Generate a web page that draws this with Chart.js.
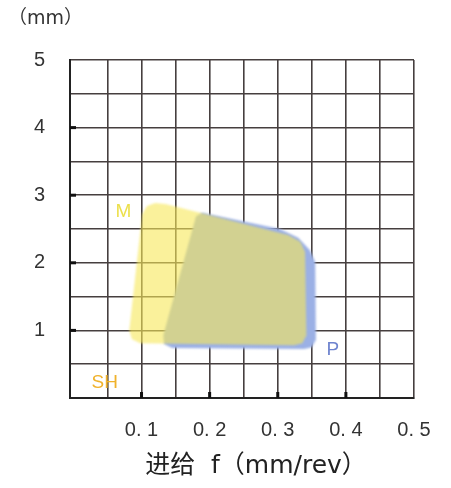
<!DOCTYPE html>
<html>
<head>
<meta charset="utf-8">
<script src="https://cdn.jsdelivr.net/npm/chart.js@4/dist/chart.umd.min.js"></script>
<style>
  html, body { margin: 0; padding: 0; background: #ffffff; }
  #wrap { width: 451px; height: 488px; position: relative; }
</style>
</head>
<body>
<div id="wrap"><canvas id="c" width="451" height="488"></canvas></div>
<script>
// Feed f (mm/rev) vs depth of cut (mm) application ranges
const xTickLabels = { 10: '0. 1', 20: '0. 2', 30: '0. 3', 40: '0. 4', 50: '0. 5' };
const yTickLabels = { 1: '1', 2: '2', 3: '3', 4: '4', 5: '5' };
const xGridValues = [0.05, 0.1, 0.15, 0.2, 0.25, 0.3, 0.35, 0.4, 0.45, 0.5];
const xMarkValues = [0.1, 0.2, 0.3, 0.4];
const yMarkValues = [1, 2, 3, 4];
const xAxisTitle = '进给  f（mm/rev）';
const yAxisUnit = '（mm）';

// Region M (outline of feed / depth range)
const regionMFeed  = [0.101, 0.108, 0.120, 0.135, 0.315, 0.333, 0.340, 0.342, 0.336, 0.324, 0.098, 0.086, 0.082, 0.101];
const regionMDepth = [2.72, 2.84, 2.885, 2.87, 2.41, 2.31, 2.16, 0.93, 0.81, 0.78, 0.81, 0.87, 1.00, 2.72];

// Region P
const regionPFeed  = [0.180, 0.189, 0.303, 0.330, 0.347, 0.355, 0.356, 0.350, 0.339, 0.145, 0.133, 0.132, 0.180];
const regionPDepth = [2.69, 2.74, 2.50, 2.37, 2.19, 2.01, 0.86, 0.75, 0.725, 0.74, 0.80, 0.93, 2.69];

// Region name labels (anchor in data units)
const regionLabels = [
  { text: 'M',  x: 0.0735, y: 2.75, color: '#ece04c' },
  { text: 'P',  x: 0.381,  y: 0.71, color: '#6f84cf' },
  { text: 'SH', x: 0.046,  y: 0.22, color: '#f0b22c' }
];

const toPoints = (xs, ys) => xs.map((x, i) => ({ x: x, y: ys[i] }));

const FONT = '"Liberation Sans", Arial, sans-serif';
const WIDE = '"DejaVu Sans", "Noto Sans CJK SC", sans-serif';
const GRID = '#463f3f';

const extras = {
  id: 'extras',
  beforeDatasetsDraw(chart) {
    // soft edges on the filled ranges
    chart.ctx.save();
    chart.ctx.filter = 'blur(1px)';
  },
  afterDatasetsDraw(chart) {
    const ctx = chart.ctx;
    ctx.restore();
    ctx.filter = 'none';
    const xs = chart.scales.x, ys = chart.scales.y;
    ctx.save();
    ctx.font = '19px ' + FONT;
    ctx.textAlign = 'center';
    ctx.textBaseline = 'middle';
    regionLabels.forEach(l => {
      ctx.fillStyle = l.color;
      ctx.fillText(l.text, xs.getPixelForValue(l.x), ys.getPixelForValue(l.y));
    });
    ctx.restore();
  },
  afterDraw(chart) {
    const ctx = chart.ctx;
    const a = chart.chartArea;
    const xs = chart.scales.x, ys = chart.scales.y;
    ctx.save();
    ctx.filter = 'none';
    ctx.fillStyle = '#111';
    yMarkValues.forEach(v => {
      const py = ys.getPixelForValue(v);
      ctx.fillRect(a.left, py - 1.5, 6, 3);
    });
    xMarkValues.forEach(v => {
      const px = xs.getPixelForValue(v);
      ctx.fillRect(px - 1.5, a.bottom - 6, 3, 6);
    });
    ctx.fillStyle = '#333';
    ctx.font = '19px ' + WIDE;
    ctx.textAlign = 'left';
    ctx.textBaseline = 'middle';
    ctx.fillText(yAxisUnit, 8, 19);
    ctx.fillStyle = '#222';
    ctx.font = '25px ' + WIDE;
    ctx.textAlign = 'center';
    ctx.fillText(xAxisTitle, 256, 466);
    ctx.restore();
  }
};

new Chart(document.getElementById('c'), {
  type: 'scatter',
  data: {
    datasets: [
      {
        label: 'M',
        data: toPoints(regionMFeed, regionMDepth),
        showLine: true,
        fill: 'shape',
        backgroundColor: 'rgba(247,232,88,0.6)',
        borderWidth: 0,
        borderColor: 'rgba(0,0,0,0)',
        pointRadius: 0,
        order: 1
      },
      {
        label: 'P',
        data: toPoints(regionPFeed, regionPDepth),
        showLine: true,
        fill: 'shape',
        backgroundColor: 'rgba(155,176,229,1)',
        borderWidth: 0,
        borderColor: 'rgba(0,0,0,0)',
        pointRadius: 0,
        order: 2
      }
    ]
  },
  options: {
    responsive: false,
    animation: false,
    events: [],
    layout: { padding: { left: 0, right: 37, top: 60, bottom: 0 } },
    plugins: {
      legend: { display: false },
      tooltip: { enabled: false },
      title: { display: false }
    },
    scales: {
      x: {
        type: 'linear',
        min: -0.005,
        max: 0.5,
        z: 1,
        afterBuildTicks(scale) {
          scale.ticks = xGridValues.map(v => ({ value: v }));
        },
        afterFit(scale) { scale.height = 90; },
        grid: { color: GRID, lineWidth: 1.6, drawTicks: false },
        border: { color: '#222', width: 2 },
        ticks: {
          padding: 20,
          maxRotation: 0,
          autoSkip: false,
          color: '#333',
          font: { family: FONT, size: 20 },
          callback(v) { return xTickLabels[Math.round(v * 100)] || ''; }
        }
      },
      y: {
        type: 'linear',
        min: 0,
        max: 5,
        z: 1,
        afterFit(scale) { scale.width = 70; },
        grid: { color: GRID, lineWidth: 1.6, drawTicks: false },
        border: { color: '#222', width: 2 },
        ticks: {
          stepSize: 0.5,
          padding: 25,
          autoSkip: false,
          color: '#333',
          font: { family: FONT, size: 20 },
          callback(v) { return Number.isInteger(v) ? (yTickLabels[v] || '') : ''; }
        }
      }
    }
  },
  plugins: [extras]
});
</script>
</body>
</html>
